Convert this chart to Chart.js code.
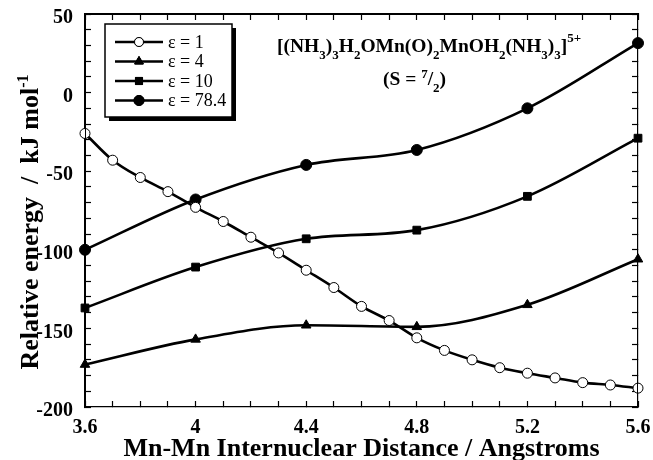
<!DOCTYPE html>
<html>
<head>
<meta charset="utf-8">
<script src="https://cdn.jsdelivr.net/npm/chart.js@4"></script>
<style>
  html, body { margin: 0; padding: 0; background: #fff; }
  #wrap { width: 653px; height: 460px; }
</style>
</head>
<body>
<div id="wrap"><canvas id="c"></canvas></div>
<script>
// 数据
const xFine = [3.6, 3.7, 3.8, 3.9, 4.0, 4.1, 4.2, 4.3, 4.4, 4.5, 4.6, 4.7, 4.8, 4.9, 5.0, 5.1, 5.2, 5.3, 5.4, 5.5, 5.6];
const eps1 = [-26, -43, -54, -63, -73, -82, -92, -102, -113, -124, -136, -145, -156, -164, -170, -175, -178.5, -181.5, -184.5, -186, -188];
const xCoarse = [3.6, 4.0, 4.4, 4.8, 5.2, 5.6];
const eps4 = [-173, -157, -148, -149, -135, -106];
const eps10 = [-137, -111, -93, -87.5, -66, -29];
const eps78 = [-100, -68, -46, -36.5, -10, 31.5];
const seriesNames = ['ε = 1', 'ε = 4', 'ε = 10', 'ε = 78.4'];

const SERIF = '"Liberation Serif", "Times New Roman", serif';

function pts(xs, ys) {
    return xs.map((x, i) => ({ x: x, y: ys[i] }));
}

function lineSet(label, data, style, fill, radius) {
    return {
        label: label,
        data: data,
        borderColor: '#000',
        borderWidth: 2.6,
        pointStyle: style,
        pointRadius: radius,
        pointBackgroundColor: fill,
        pointBorderColor: '#000',
        pointBorderWidth: 1,
        cubicInterpolationMode: 'monotone',
        clip: false,
        fill: false
    };
}

// 画带上下标的文字
function drawRich(ctx, parts, x, base, big, small, up, down) {
    parts.forEach(([t, s]) => {
        ctx.font = s === 0 ? big : small;
        const dy = s === 1 ? down : (s === -1 ? -up : 0);
        ctx.fillText(t, x, base + dy);
        x += ctx.measureText(t).width;
    });
    return x;
}
function richWidth(ctx, parts, big, small) {
    let w = 0;
    parts.forEach(([t, s]) => {
        ctx.font = s === 0 ? big : small;
        w += ctx.measureText(t).width;
    });
    return w;
}

// 向内的刻度线（负的 tickLength）
const inwardGrid = { display: true, drawOnChartArea: false, drawTicks: true, tickLength: -6, tickColor: '#000', tickWidth: 1.2 };
const frameBorder = { display: true, color: '#000', width: 1.2 };

// 再描一遍外框，保证四边都有
const frameBox = {
    id: 'frameBox',
    afterDatasetsDraw(chart) {
        const ctx = chart.ctx;
        const a = chart.chartArea;
        ctx.save();
        ctx.strokeStyle = '#000';
        ctx.lineWidth = 1;
        ctx.strokeRect(Math.round(a.left) + 0.5, Math.round(a.top) + 0.5,
            Math.round(a.right - a.left) - 1, Math.round(a.bottom - a.top) - 1);
        ctx.restore();
    }
};

// 图例框、标题文字、纵轴标题
const annot = {
    id: 'annot',
    afterDraw(chart) {
        const ctx = chart.ctx;
        ctx.save();
        // 阴影
        ctx.fillStyle = '#000';
        ctx.fillRect(109, 28, 127, 93);
        ctx.fillStyle = '#fff';
        ctx.fillRect(105, 24, 127, 93);
        ctx.strokeStyle = '#000';
        ctx.lineWidth = 1.5;
        ctx.strokeRect(105, 24, 127, 93);

        const styles = ['circle', 'triangle', 'rect', 'circle'];
        const fills = ['#fff', '#000', '#000', '#000'];
        const radii = [4.5, 5, 5, 5];
        for (let i = 0; i < 4; i++) {
            const y = 42 + i * 19.5;
            ctx.strokeStyle = '#000';
            ctx.lineWidth = 2.6;
            ctx.beginPath();
            ctx.moveTo(115, y);
            ctx.lineTo(163, y);
            ctx.stroke();
            ctx.fillStyle = fills[i];
            ctx.lineWidth = 1;
            Chart.helpers.drawPoint(ctx, { pointStyle: styles[i], radius: radii[i], borderWidth: 1 }, 139, y);
            ctx.fill();
            ctx.stroke();
            ctx.fillStyle = '#000';
            ctx.font = '18px ' + SERIF;
            ctx.textBaseline = 'middle';
            ctx.textAlign = 'left';
            ctx.fillText(seriesNames[i], 168, y + 1);
        }

        // 化学式
        const big = 'bold 19.5px ' + SERIF;
        const small = 'bold 13px ' + SERIF;
        ctx.textBaseline = 'alphabetic';
        ctx.textAlign = 'left';
        const formula = [
            ['[(NH', 0], ['3', 1], [')', 0], ['3', 1], ['H', 0], ['2', 1], ['OMn(O)', 0], ['2', 1],
            ['MnOH', 0], ['2', 1], ['(NH', 0], ['3', 1], [')', 0], ['3', 1], [']', 0], ['5+', -1]
        ];
        drawRich(ctx, formula, 277, 52, big, small, 10, 7);
        const spin = [['(S = ', 0], ['7', -1], ['/', 0], ['2', 1], [')', 0]];
        drawRich(ctx, spin, 383, 85, big, small, 7, 7);

        // 纵轴标题
        const yBig = 'bold 26px ' + SERIF;
        const ySmall = 'bold 16px ' + SERIF;
        const yParts = [['Relative energy  /  kJ mol', 0], ['-1', -1]];
        const w = richWidth(ctx, yParts, yBig, ySmall);
        ctx.translate(38, 222);
        ctx.rotate(-Math.PI / 2);
        drawRich(ctx, yParts, -w / 2, 0, yBig, ySmall, 10, 0);
        ctx.restore();
    }
};

const tickFont = { family: SERIF, size: 20, weight: 'bold' };

new Chart(document.getElementById('c'), {
    type: 'line',
    data: {
        datasets: [
            lineSet(seriesNames[0], pts(xFine, eps1), 'circle', '#fff', 5),
            lineSet(seriesNames[1], pts(xCoarse, eps4), 'triangle', '#000', 5.5),
            lineSet(seriesNames[2], pts(xCoarse, eps10), 'rect', '#000', 5.5),
            lineSet(seriesNames[3], pts(xCoarse, eps78), 'circle', '#000', 5.5)
        ]
    },
    options: {
        responsive: true,
        maintainAspectRatio: false,
        animation: false,
        layout: { padding: { top: 14, right: 15, left: 0, bottom: 0 } },
        plugins: {
            legend: { display: false },
            tooltip: { enabled: false }
        },
        scales: {
            x: {
                type: 'linear',
                position: 'bottom',
                min: 3.6,
                max: 5.6,
                grid: inwardGrid,
                border: frameBorder,
                ticks: {
                    stepSize: 0.1,
                    autoSkip: false,
                    color: '#000',
                    padding: 15,
                    maxRotation: 0,
                    font: tickFont,
                    callback: v => {
                        const t = Math.round(v * 10);
                        return t % 4 === 0 ? String(t / 10) : '';
                    }
                },
                title: {
                    display: true,
                    text: 'Mn-Mn Internuclear Distance / Angstroms',
                    color: '#000',
                    padding: { top: 0, bottom: -5 },
                    font: { family: SERIF, size: 26, weight: 'bold' }
                },
                afterFit: s => {
                    s.height = 53;
                    s.paddingLeft = 0;
                    s.paddingRight = 0;
                }
            },
            x2: {
                type: 'linear',
                axis: 'x',
                position: 'top',
                min: 3.6,
                max: 5.6,
                grid: inwardGrid,
                border: frameBorder,
                ticks: { stepSize: 0.1, autoSkip: false, callback: () => '' },
                afterFit: s => {
                    s.height = 0;
                    s.paddingLeft = 0;
                    s.paddingRight = 0;
                }
            },
            y: {
                position: 'left',
                min: -200,
                max: 50,
                grid: inwardGrid,
                border: frameBorder,
                ticks: {
                    stepSize: 10,
                    autoSkip: false,
                    color: '#000',
                    padding: 18,
                    labelOffset: 4,
                    font: tickFont,
                    callback: v => (Math.round(v) % 50 === 0 ? String(Math.round(v)) : '')
                },
                title: { display: false },
                afterFit: s => {
                    s.width = 85;
                    s.paddingTop = 0;
                    s.paddingBottom = 0;
                }
            },
            y2: {
                axis: 'y',
                position: 'right',
                min: -200,
                max: 50,
                grid: inwardGrid,
                border: frameBorder,
                ticks: { stepSize: 10, autoSkip: false, callback: () => '' },
                afterFit: s => {
                    s.width = 0;
                    s.paddingTop = 0;
                    s.paddingBottom = 0;
                }
            }
        }
    },
    plugins: [frameBox, annot]
});
</script>
</body>
</html>
